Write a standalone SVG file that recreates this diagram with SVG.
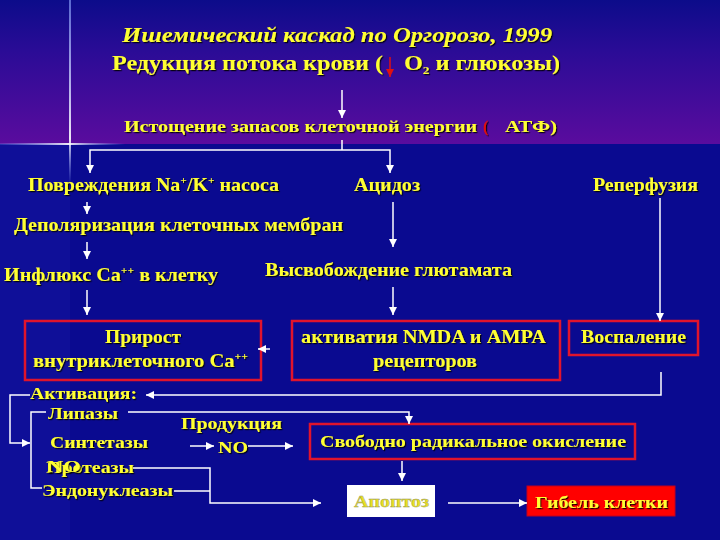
<svg xmlns="http://www.w3.org/2000/svg" width="720" height="540" viewBox="0 0 720 540">
<defs>
<linearGradient id="topbg" x1="0" y1="0" x2="0" y2="1">
<stop offset="0" stop-color="#0c0c8a"/>
<stop offset="0.35" stop-color="#2a0c96"/>
<stop offset="1" stop-color="#5a0c9e"/>
</linearGradient>
<linearGradient id="vline" x1="0" y1="0" x2="0" y2="1">
<stop offset="0" stop-color="#8fa8ff" stop-opacity="0.6"/>
<stop offset="0.75" stop-color="#ffffff" stop-opacity="0.9"/>
<stop offset="1" stop-color="#8fa8ff" stop-opacity="0"/>
</linearGradient>
<linearGradient id="hline" x1="0" y1="0" x2="1" y2="0">
<stop offset="0" stop-color="#8fa8ff" stop-opacity="0.2"/>
<stop offset="0.55" stop-color="#ffffff" stop-opacity="0.9"/>
<stop offset="1" stop-color="#8fa8ff" stop-opacity="0"/>
</linearGradient>
<filter id="sh" x="-5%" y="-20%" width="110%" height="140%">
<feDropShadow dx="1.2" dy="1.2" stdDeviation="0.3" flood-color="#000000" flood-opacity="0.85"/>
</filter>
<marker id="ah" markerUnits="userSpaceOnUse" markerWidth="9" markerHeight="9" refX="8" refY="4" orient="auto">
<path d="M0,0 L8,4 L0,8 z" fill="#ffffff"/>
</marker>
<marker id="ahr" markerUnits="userSpaceOnUse" markerWidth="9" markerHeight="9" refX="8" refY="4" orient="auto">
<path d="M0,0 L8,4 L0,8 z" fill="#e01010"/>
</marker>
<style>
.t{font-family:"Liberation Serif","Times New Roman",serif;font-weight:bold;fill:#ffff33;font-size:19px;filter:url(#sh)}
.ti{font-style:italic;font-size:21px}
.m{font-size:16px}
.s{font-size:17px}
.box{fill:none;stroke:#e0142c;stroke-width:2.5}
.ln{fill:none;stroke:#ffffff;stroke-width:1.5}
.a{marker-end:url(#ah)}
.sup{font-size:11px}
</style>
</defs>

<rect x="0" y="0" width="720" height="540" fill="#0a0a90"/>
<rect x="0" y="0" width="720" height="144" fill="url(#topbg)"/>
<rect x="0" y="144" width="70" height="396" fill="#1414a0" opacity="0.5"/>
<rect x="69" y="0" width="2" height="185" fill="url(#vline)"/>
<rect x="0" y="143" width="125" height="2" fill="url(#hline)"/>

<g id="title">
<text class="t ti" x="122" y="42" textLength="430" lengthAdjust="spacingAndGlyphs">Ишемический каскад  по Оргорозо, 1999</text>
</g>
<g id="n-reduction">
<text class="t" x="112" y="70" textLength="271" lengthAdjust="spacingAndGlyphs" style="font-size:20px">Редукция потока крови (</text>
<path d="M390,57 V77" stroke="#e01010" stroke-width="1.5" marker-end="url(#ahr)"/>
<text class="t" x="404" y="70" textLength="156" lengthAdjust="spacingAndGlyphs" style="font-size:20px">О<tspan class="sup" dy="4">2</tspan><tspan dy="-4"> и глюкозы)</tspan></text>
</g>
<g id="n-depletion">
<text class="t m" x="124" y="132" textLength="353" lengthAdjust="spacingAndGlyphs">Истощение запасов клеточной энергии</text>
<text class="t m" x="483" y="132" style="fill:#e01010">(</text>
<text class="t m" x="505" y="132" textLength="52" lengthAdjust="spacingAndGlyphs">АТФ)</text>
</g>
<g id="n-pump">
<text class="t" x="28" y="191" textLength="251" lengthAdjust="spacingAndGlyphs">Повреждения Na<tspan class="sup" dy="-7">+</tspan><tspan dy="7">/K</tspan><tspan class="sup" dy="-7">+</tspan><tspan dy="7"> насоса</tspan></text>
</g>
<g id="n-acidosis">
<text class="t" x="354" y="191" textLength="66" lengthAdjust="spacingAndGlyphs">Ацидоз</text>
</g>
<g id="n-reperfusion">
<text class="t" x="593" y="191" textLength="105" lengthAdjust="spacingAndGlyphs">Реперфузия</text>
</g>
<g id="n-depol">
<text class="t" x="14" y="231" textLength="329" lengthAdjust="spacingAndGlyphs">Деполяризация клеточных мембран</text>
</g>
<g id="n-influx">
<text class="t" x="4" y="281" textLength="214" lengthAdjust="spacingAndGlyphs">Инфлюкс Ca<tspan class="sup" dy="-7">++</tspan><tspan dy="7"> в клетку</tspan></text>
</g>
<g id="n-glutamate">
<text class="t" x="265" y="276" textLength="247" lengthAdjust="spacingAndGlyphs">Высвобождение глютамата</text>
</g>
<g id="n-ca-rise">
<rect class="box" x="25" y="321" width="236" height="59"/>
<text class="t" x="105" y="343" textLength="76" lengthAdjust="spacingAndGlyphs">Прирост</text>
<text class="t" x="33" y="367" textLength="215" lengthAdjust="spacingAndGlyphs">внутриклеточного Ca<tspan class="sup" dy="-7">++</tspan></text>
</g>
<g id="n-nmda">
<rect class="box" x="292" y="321" width="268" height="59"/>
<text class="t" x="301" y="343" textLength="245" lengthAdjust="spacingAndGlyphs">активатия NMDA и AMPA</text>
<text class="t" x="373" y="367" textLength="104" lengthAdjust="spacingAndGlyphs">рецепторов</text>
</g>
<g id="n-inflammation">
<rect class="box" x="569" y="321" width="129" height="34"/>
<text class="t" x="581" y="343" textLength="105" lengthAdjust="spacingAndGlyphs">Воспаление</text>
</g>
<g id="n-activation">
<text class="t s" x="30" y="399" textLength="107" lengthAdjust="spacingAndGlyphs">Активация:</text>
<text class="t s" x="48" y="419" textLength="70" lengthAdjust="spacingAndGlyphs">Липазы</text>
<text class="t s" x="50" y="448" textLength="98" lengthAdjust="spacingAndGlyphs">Синтетазы</text>
<text class="t s" x="46" y="473" textLength="88" lengthAdjust="spacingAndGlyphs">Протеазы</text>
<text class="t s" x="47" y="472" textLength="34" lengthAdjust="spacingAndGlyphs">NO</text>
<text class="t s" x="42" y="496" textLength="131" lengthAdjust="spacingAndGlyphs">Эндонуклеазы</text>
</g>
<g id="n-no">
<text class="t s" x="181" y="429" textLength="101" lengthAdjust="spacingAndGlyphs">Продукция</text>
<text class="t s" x="218" y="453" textLength="30" lengthAdjust="spacingAndGlyphs">NO</text>
</g>
<g id="n-radical">
<rect class="box" x="310" y="424" width="325" height="35"/>
<text class="t s" x="320" y="447" textLength="306" lengthAdjust="spacingAndGlyphs">Свободно радикальное окисление</text>
</g>
<g id="n-apoptosis">
<rect x="347" y="485" width="88" height="32" fill="#ffffff"/>
<text class="t s" x="354" y="507" textLength="75" lengthAdjust="spacingAndGlyphs" style="filter:none;fill:#e8e020;stroke:#9a9a60;stroke-width:0.4">Апоптоз</text>
</g>
<g id="n-death">
<rect x="527" y="486" width="148" height="30" fill="#ff0000" stroke="#c00020" stroke-width="1"/>
<text class="t s" x="535" y="508" textLength="133" lengthAdjust="spacingAndGlyphs">Гибель клетки</text>
</g>

<g id="connectors">
<path class="ln a" d="M342,90 V118"/>
<path class="ln" d="M342,140 V150"/>
<path class="ln a" d="M342,150 H90 V173"/>
<path class="ln a" d="M342,150 H390 V173"/>
<path class="ln a" d="M87,202 V214"/>
<path class="ln a" d="M87,242 V259"/>
<path class="ln a" d="M87,290 V315"/>
<path class="ln a" d="M393,202 V247"/>
<path class="ln a" d="M393,287 V315"/>
<path class="ln a" d="M660,198 V321"/>
<path class="ln a" d="M270,349 H258"/>
<path class="ln a" d="M661,372 V395 H146"/>
<path class="ln a" d="M30,395 H10 V443 H30"/>
<path class="ln" d="M46,412 H31 V488 H42"/>
<path class="ln a" d="M128,412 H409 V424"/>
<path class="ln a" d="M190,446 H214"/>
<path class="ln a" d="M248,446 H293"/>
<path class="ln a" d="M133,468 H210 V503 H321"/>
<path class="ln" d="M174,491 H210"/>
<path class="ln a" d="M402,461 V481"/>
<path class="ln a" d="M448,503 H527"/>
</g>
</svg>
